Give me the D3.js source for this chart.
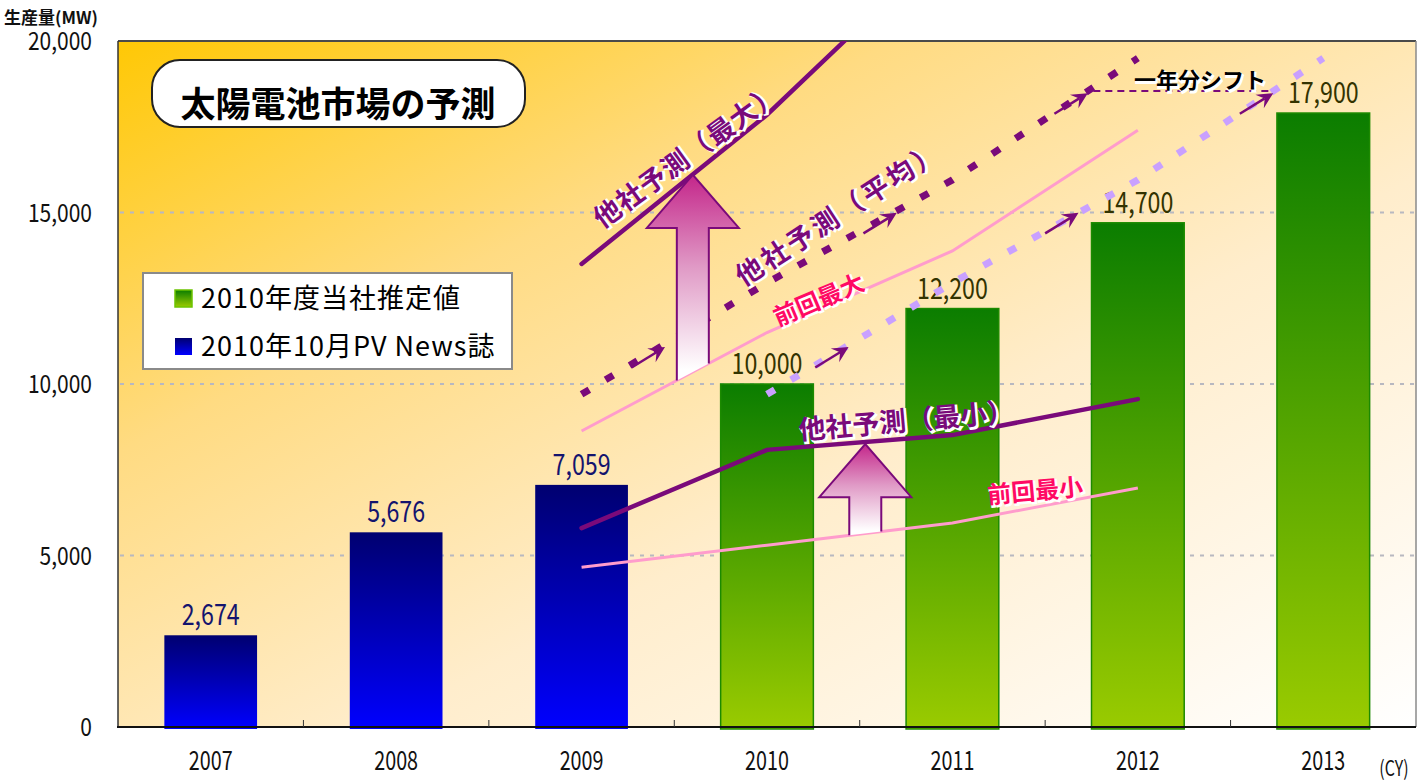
<!DOCTYPE html>
<html>
<head>
<meta charset="utf-8">
<script src="https://cdn.jsdelivr.net/npm/d3@7"></script>
<style>
  body { margin: 0; background: #fff; }
  text { font-family: "Noto Sans CJK JP", "Noto Sans", sans-serif; }
</style>
</head>
<body>
<div id="chart"></div>
<script>
// ---- data ----
const years = ["2007", "2008", "2009", "2010", "2011", "2012", "2013"];
const pvYears = ["2007", "2008", "2009"];
const pvNews = [2674, 5676, 7059];
const estYears = ["2010", "2011", "2012", "2013"];
const estimate = [10000, 12200, 14700, 17900];
const yTicks = [0, 5000, 10000, 15000, 20000];

const otherMaxYears = [2009, 2010, 2011];
const otherMax = [13500, 17850, 23000];
const otherAvgYears = [2009, 2010, 2011, 2012];
const otherAvg = [9700, 12950, 15950, 19500];
const shiftedYears = [2010, 2011, 2012, 2013];
const lineYears = [2009, 2010, 2011, 2012];
const prevMax = [8630, 11500, 13880, 17400];
const otherMin = [5800, 8080, 8510, 9560];
const prevMin = [4660, 5300, 5950, 6970];

// small arrows on the average line (tip year / value), copied one year later
const avgArrowYears = [2009.45, 2010.70, 2011.73];
const shiftArrowYears = [2010.44, 2011.68, 2012.73];
const arrowValues = [11080, 14990, 18480];
const shiftMarkYears = [2011.76, 2012.72];
const shiftMarkValue = 18540;

// big "up" arrows: centre year, neck value, tip value
const bigArrowYears = [2009.6, 2010.53];
const bigArrowTips = [16100, 8250];
const bigArrowNecks = [14550, 6700];

const W = 1424, H = 783;
const svg = d3.select('#chart').append('svg').attr('width', W).attr('height', H);

const x = d3.scaleBand().domain(years).range([118, 1416]).paddingInner(0.5).paddingOuter(0.25);
const y = d3.scaleLinear().domain([0, 20000]).range([727, 41]);
const bw = x.bandwidth();
const xc = d3.scaleLinear().domain([2007, 2013]).range([x('2007') + bw / 2, x('2013') + bw / 2]);

// ---- gradients ----
const defs = svg.append('defs');
function grad(id, stops, x2, y2) {
  const g = defs.append('linearGradient').attr('id', id)
    .attr('x1', 0).attr('y1', 0).attr('x2', x2).attr('y2', y2);
  stops.forEach(s => g.append('stop').attr('offset', s[0]).attr('stop-color', s[1]));
}
grad('bg', [[0, '#ffc805'], [0.3, '#ffdb82'], [0.6, '#ffedcc'], [1, '#ffffff']], 1, 1);
grad('blue', [[0, '#000070'], [1, '#0000ff']], 0, 1);
grad('green', [[0, '#0b7d00'], [1, '#9acb00']], 0, 1);
grad('pinkArrow', [[0, '#c4268a'], [0.45, '#e09ac6'], [0.95, '#ffffff']], 0, 1);

defs.append('clipPath').attr('id', 'plotClip').append('rect')
  .attr('x', 118).attr('y', 41).attr('width', 1298).attr('height', 686);

// ---- plot background ----
svg.append('rect').attr('x', 118).attr('y', 41).attr('width', 1298).attr('height', 686)
  .attr('fill', 'url(#bg)');

// gridlines
svg.append('g').selectAll('line').data(yTicks.filter(d => d > 0 && d < 20000)).join('line')
  .attr('x1', 120).attr('x2', 1414)
  .attr('y1', d => y(d)).attr('y2', d => y(d))
  .attr('stroke', '#b8b8c0').attr('stroke-width', 2).attr('stroke-dasharray', '4,6');

// ---- bars ----
svg.append('g').selectAll('rect').data(pvNews).join('rect')
  .attr('x', (d, i) => x(pvYears[i])).attr('width', bw)
  .attr('y', d => y(d)).attr('height', d => y(0) - y(d) + 2)
  .attr('fill', 'url(#blue)');

svg.append('g').selectAll('rect').data(estimate).join('rect')
  .attr('x', (d, i) => x(estYears[i])).attr('width', bw)
  .attr('y', d => y(d)).attr('height', d => y(0) - y(d) + 2)
  .attr('fill', 'url(#green)')
  .attr('stroke', '#1c8a00').attr('stroke-width', 1.5);

// narrow numeric text (the original font is a tall condensed one)
function numText(parent, cx, base, str, size, sx, color, anchor) {
  parent.append('text')
    .attr('transform', `translate(${cx},${base}) scale(${sx},1)`)
    .attr('text-anchor', anchor || 'middle')
    .attr('font-size', size).attr('fill', color)
    .text(str);
}
const fmt = d3.format(',');
const barLabels = svg.append('g');
pvNews.forEach((d, i) => numText(barLabels, x(pvYears[i]) + bw / 2, y(d) - 10, fmt(d), 29, 0.8, '#14146e'));
estimate.forEach((d, i) => numText(barLabels, x(estYears[i]) + bw / 2, y(d) - 10, fmt(d), 29, 0.8, '#333300'));

// ---- axes / frame ----
svg.append('line').attr('x1', 118).attr('x2', 1416).attr('y1', 41).attr('y2', 41)
  .attr('stroke', '#4a4a4a').attr('stroke-width', 2);
svg.append('line').attr('x1', 1416).attr('x2', 1416).attr('y1', 41).attr('y2', 727)
  .attr('stroke', '#8a8a8a').attr('stroke-width', 1.5);
svg.append('line').attr('x1', 118).attr('x2', 118).attr('y1', 41).attr('y2', 728)
  .attr('stroke', '#333').attr('stroke-width', 1.5);
svg.append('line').attr('x1', 117).attr('x2', 1416).attr('y1', 727).attr('y2', 727)
  .attr('stroke', '#111').attr('stroke-width', 2);

// x ticks at band boundaries
const step = x.step();
svg.append('g').selectAll('line').data(years.slice(1)).join('line')
  .attr('x1', d => x(d) - (step - bw) / 2).attr('x2', d => x(d) - (step - bw) / 2)
  .attr('y1', 727).attr('y2', 720).attr('stroke', '#333').attr('stroke-width', 1);

const axisText = svg.append('g');
years.forEach(d => numText(axisText, x(d) + bw / 2, 770, d, 26, 0.76, '#111'));
numText(axisText, 1394, 776, '(CY)', 21, 0.76, '#111');
yTicks.forEach(d => numText(axisText, 92, y(d) + 9, fmt(d), 25, 0.84, '#111', 'end'));

svg.append('text').attr('x', 4).attr('y', 24).attr('font-size', 17).attr('font-weight', 700)
  .attr('fill', '#111').text('生産量(MW)');

// ---- forecast lines ----
const plot = svg.append('g').attr('clip-path', 'url(#plotClip)');
const line = d3.line().x(d => xc(d[0])).y(d => y(d[1]));
const zipped = (ys, vs) => ys.map((yr, i) => [yr, vs[i]]);

plot.append('path').datum(zipped(lineYears, prevMax)).attr('d', line)
  .attr('fill', 'none').attr('stroke', '#ff9ccc').attr('stroke-width', 3);
plot.append('path').datum(zipped(lineYears, prevMin)).attr('d', line)
  .attr('fill', 'none').attr('stroke', '#ff9ccc').attr('stroke-width', 3);
plot.append('path').datum(zipped(shiftedYears, otherAvg)).attr('d', line)
  .attr('fill', 'none').attr('stroke', '#c9a0ff').attr('stroke-width', 7)
  .attr('stroke-dasharray', '9,19');
plot.append('path').datum(zipped(otherAvgYears, otherAvg)).attr('d', line)
  .attr('fill', 'none').attr('stroke', '#7a0a7a').attr('stroke-width', 7)
  .attr('stroke-dasharray', '9,19');
plot.append('path').datum(zipped(otherMaxYears, otherMax)).attr('d', line)
  .attr('fill', 'none').attr('stroke', '#7a0a7a').attr('stroke-width', 4.5).attr('stroke-linecap', 'round');
plot.append('path').datum(zipped(lineYears, otherMin)).attr('d', line)
  .attr('fill', 'none').attr('stroke', '#7a0a7a').attr('stroke-width', 4.5).attr('stroke-linecap', 'round');

// "one year shift" marker line
plot.append('line')
  .attr('x1', xc(shiftMarkYears[0])).attr('x2', xc(shiftMarkYears[1]))
  .attr('y1', y(shiftMarkValue)).attr('y2', y(shiftMarkValue))
  .attr('stroke', '#7a0a7a').attr('stroke-width', 2).attr('stroke-dasharray', '7,5');

// small arrows
function smallArrow(g, yr, v) {
  const tx = xc(yr), ty = y(v);
  const fx = xc(yr - 0.18), fy = y(v - 600);
  const a = Math.atan2(ty - fy, tx - fx);
  const L = 16, Wd = 8, N = 10;
  const pt = (d, s) => [tx - d * Math.cos(a) - s * Math.sin(a), ty - d * Math.sin(a) + s * Math.cos(a)];
  g.append('line').attr('x1', fx).attr('y1', fy).attr('x2', pt(N, 0)[0]).attr('y2', pt(N, 0)[1])
    .attr('stroke', '#7a0a7a').attr('stroke-width', 2.5);
  g.append('path').attr('d', 'M' + [[tx, ty], pt(L, Wd), pt(N, 0), pt(L, -Wd)].join('L') + 'Z')
    .attr('fill', '#7a0a7a');
}
const arrows = svg.append('g');
avgArrowYears.forEach((yr, i) => smallArrow(arrows, yr, arrowValues[i]));
shiftArrowYears.forEach((yr, i) => smallArrow(arrows, yr, arrowValues[i]));

// big up arrows, foot cut along the previous-forecast line below them
const footLines = [prevMax, prevMin];
function lineValueAt(yr, vals) {
  return d3.scaleLinear().domain(lineYears).range(vals)(yr);
}
bigArrowYears.forEach((yr, i) => {
  const cx = xc(yr), sw = 16, hw = 46;
  const yl = y(lineValueAt(xc.invert(cx - sw), footLines[i]));
  const yr2 = y(lineValueAt(xc.invert(cx + sw), footLines[i]));
  const neck = y(bigArrowNecks[i]), tip = y(bigArrowTips[i]);
  const pts = [[cx - sw, yl], [cx - sw, neck], [cx - hw, neck], [cx, tip], [cx + hw, neck], [cx + sw, neck], [cx + sw, yr2]];
  svg.append('path').attr('d', 'M' + pts.join('L') + 'Z').attr('fill', 'url(#pinkArrow)');
  svg.append('path').attr('d', 'M' + pts.join('L')).attr('fill', 'none')
    .attr('stroke', '#7a0a7a').attr('stroke-width', 2).attr('stroke-linejoin', 'miter');
});

// ---- annotation text with white halo ----
function haloText(str, cx, cy, angle, size, color, spacing) {
  const g = svg.append('g').attr('transform', `translate(${cx},${cy}) rotate(${angle})`);
  [['#fff', 1.6], [color, 0]].forEach(([c, off]) => {
    g.append('text').attr('x', off).attr('y', off)
      .attr('text-anchor', 'middle').attr('dominant-baseline', 'central')
      .attr('font-size', size).attr('font-weight', 700).attr('letter-spacing', spacing || 0)
      .attr('fill', c).attr('stroke', off ? '#fff' : 'none').attr('stroke-width', 2)
      .text(str);
  });
}
haloText('他社予測（最大）', 686, 154, -36, 27, '#7a0a7a', 1);
haloText('他社予測（平均）', 838, 212, -33, 27, '#7a0a7a', 3);
haloText('前回最大', 818, 298, -23, 24, '#ff0a64', 0);
haloText('他社予測（最小）', 906, 419, -5, 27, '#7a0a7a', 0);
haloText('前回最小', 1035, 489, -5, 24, '#ff0a64', 0);
haloText('一年分シフト', 1200, 78, 0, 22, '#000', 0);

// ---- title box ----
svg.append('rect').attr('x', 152).attr('y', 60).attr('width', 373).attr('height', 67)
  .attr('rx', 28).attr('fill', '#fff').attr('stroke', '#222').attr('stroke-width', 2);
svg.append('text').attr('x', 338).attr('y', 117).attr('text-anchor', 'middle')
  .attr('font-size', 35).attr('font-weight', 700).attr('fill', '#000')
  .text('太陽電池市場の予測');

// ---- legend ----
const legend = svg.append('g');
legend.append('rect').attr('x', 143).attr('y', 273).attr('width', 369).attr('height', 96)
  .attr('fill', '#fff').attr('stroke', '#8a8a8a').attr('stroke-width', 2);
const legendItems = ['2010年度当社推定値', '2010年10月PV News誌'];
const legendFills = ['url(#green)', 'url(#blue)'];
const legendStrokes = ['#6cc400', 'none'];
legendItems.forEach((t, i) => {
  legend.append('rect').attr('x', 175).attr('y', 290 + i * 48).attr('width', 17).attr('height', 17)
    .attr('fill', legendFills[i]).attr('stroke', legendStrokes[i]).attr('stroke-width', 1.5);
  legend.append('text').attr('x', 201).attr('y', 308 + i * 48)
    .attr('font-size', 27).attr('fill', '#000').attr('letter-spacing', 1).text(t);
});
</script>
</body>
</html>
